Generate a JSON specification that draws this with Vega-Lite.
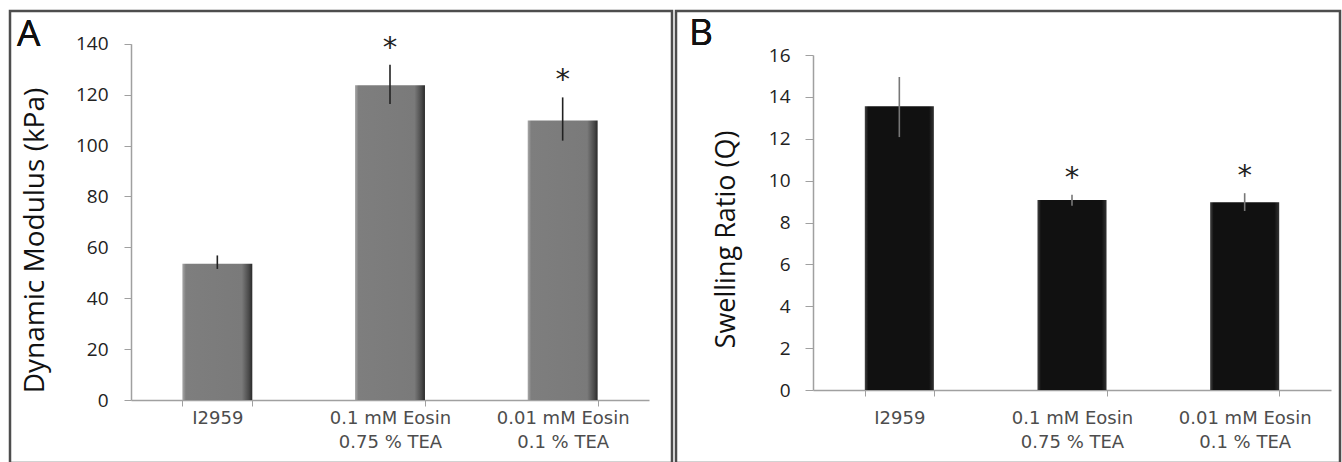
{
  "$schema": "https://vega.github.io/schema/vega-lite/v6.json",
  "padding": {"left": 8, "top": 9, "right": 0, "bottom": 0},
  "background": "white",
  "spacing": 0,
  "config": {
    "view": {"stroke": "#4d4d4d", "strokeWidth": 2.5},
    "axis": {"grid": false}
  },
  "datasets": {
    "modulus": [
      {"group": "I2959", "value": 53.5, "lo": 51.5, "hi": 56.8, "star": false},
      {"group": "0.1 mM Eosin\n0.75 % TEA", "value": 123.7, "lo": 116.3, "hi": 131.7, "star": true},
      {"group": "0.01 mM Eosin\n0.1 % TEA", "value": 109.8, "lo": 101.9, "hi": 118.9, "star": true}
    ],
    "swelling": [
      {"group": "I2959", "value": 13.55, "lo": 12.08, "hi": 14.95, "star": false},
      {"group": "0.1 mM Eosin\n0.75 % TEA", "value": 9.07, "lo": 8.8, "hi": 9.33, "star": true},
      {"group": "0.01 mM Eosin\n0.1 % TEA", "value": 8.97, "lo": 8.55, "hi": 9.4, "star": true}
    ]
  },
  "hconcat": [
    {
      "width": 662,
      "height": 452,
      "data": {"name": "modulus"},
      "encoding": {
        "x": {
          "field": "group", "type": "nominal", "sort": null,
          "scale": {"range": [121, 639], "paddingInner": 0.595, "paddingOuter": 0.2975},
          "axis": {"title": null, "labelAngle": 0, "offset": -63, "tickBand": "extent", "tickSize": 6, "tickColor": "#a0a0a0", "domainColor": "#a0a0a0", "domainWidth": 1.5, "labelFont": "DejaVu Sans", "labelFontSize": 18, "labelColor": "#4d4d4d", "labelPadding": 3, "labelLineHeight": 24, "labelExpr": "isString(datum.value) ? split(datum.value, '\\n') : ''"}
        }
      },
      "layer": [
        {
          "mark": {"type": "bar", "color": {"gradient": "linear", "x1": 0, "x2": 1, "y1": 0, "y2": 0, "stops": [{"offset": 0, "color": "#a8a8a8"}, {"offset": 0.05, "color": "#7e7e7e"}, {"offset": 0.85, "color": "#7a7a7a"}, {"offset": 0.95, "color": "#4a4a4a"}, {"offset": 1, "color": "#2a2a2a"}]}},
          "encoding": {
            "y": {
              "field": "value", "type": "quantitative",
              "scale": {"domain": [0, 140], "range": [389, 32.7], "nice": false},
              "axis": {"title": "Dynamic Modulus (kPa)", "offset": -121, "values": [0, 20, 40, 60, 80, 100, 120, 140], "tickSize": 7, "tickColor": "#a0a0a0", "domainColor": "#a0a0a0", "domainWidth": 1.5, "labelFont": "Open Sans", "labelFontSize": 19, "labelColor": "#222", "labelPadding": 16, "titleFont": "Open Sans", "titleFontSize": 28, "titleFontWeight": "normal", "titleColor": "#111", "titleX": -82, "titleY": 229, "titleBaseline": "bottom", "titleAngle": -90}
            }
          }
        },
        {
          "mark": {"type": "rule", "color": "#222", "strokeWidth": 1.6},
          "encoding": {"y": {"field": "lo", "type": "quantitative"}, "y2": {"field": "hi"}}
        },
        {
          "transform": [{"filter": "datum.star"}],
          "mark": {"type": "text", "text": "*", "font": "DejaVu Sans", "fontSize": 29, "baseline": "bottom", "dy": -2, "color": "#222"},
          "encoding": {"y": {"field": "hi", "type": "quantitative"}}
        },
        {
          "mark": {"type": "text", "text": "A", "align": "left", "baseline": "alphabetic", "font": "Open Sans", "fontSize": 37, "color": "#111"},
          "encoding": {
            "x": {"datum": "I2959", "type": "nominal", "bandPosition": -2.366},
            "y": {"datum": 139.1, "type": "quantitative"}
          }
        }
      ]
    },
    {
      "width": 664,
      "height": 452,
      "data": {"name": "swelling"},
      "encoding": {
        "x": {
          "field": "group", "type": "nominal", "sort": null,
          "scale": {"range": [137, 655], "paddingInner": 0.6, "paddingOuter": 0.3},
          "axis": {"title": null, "labelAngle": 0, "offset": -73, "tickBand": "extent", "tickSize": 6, "tickColor": "#a0a0a0", "domainColor": "#a0a0a0", "domainWidth": 1.5, "labelFont": "DejaVu Sans", "labelFontSize": 18, "labelColor": "#4d4d4d", "labelPadding": 13, "labelLineHeight": 24, "labelExpr": "isString(datum.value) ? split(datum.value, '\\n') : ''"}
        }
      },
      "layer": [
        {
          "mark": {"type": "bar", "color": {"gradient": "linear", "x1": 0, "x2": 1, "y1": 0, "y2": 0, "stops": [{"offset": 0, "color": "#444"}, {"offset": 0.05, "color": "#111"}, {"offset": 0.93, "color": "#111"}, {"offset": 1, "color": "#333"}]}},
          "encoding": {
            "y": {
              "field": "value", "type": "quantitative",
              "scale": {"domain": [0, 16], "range": [379, 44], "nice": false},
              "axis": {"title": "Swelling Ratio (Q)", "offset": -137, "values": [0, 2, 4, 6, 8, 10, 12, 14, 16], "tickSize": 8, "tickColor": "#a0a0a0", "domainColor": "#a0a0a0", "domainWidth": 1.5, "labelFont": "Open Sans", "labelFontSize": 19, "labelColor": "#222", "labelPadding": 15, "titleFont": "Open Sans", "titleFontSize": 27, "titleFontWeight": "normal", "titleColor": "#111", "titleX": -73, "titleY": 228, "titleBaseline": "bottom", "titleAngle": -90}
            }
          }
        },
        {
          "mark": {"type": "rule", "color": "#777", "strokeWidth": 1.6},
          "encoding": {"y": {"field": "lo", "type": "quantitative"}, "y2": {"field": "hi"}}
        },
        {
          "transform": [{"filter": "datum.star"}],
          "mark": {"type": "text", "text": "*", "font": "DejaVu Sans", "fontSize": 29, "baseline": "bottom", "dy": -2, "color": "#222"},
          "encoding": {"y": {"field": "hi", "type": "quantitative"}}
        },
        {
          "mark": {"type": "text", "text": "B", "align": "left", "baseline": "alphabetic", "font": "Open Sans", "fontSize": 37, "color": "#111"},
          "encoding": {
            "x": {"datum": "I2959", "type": "nominal", "bandPosition": -2.545},
            "y": {"datum": 16.48, "type": "quantitative"}
          }
        }
      ]
    }
  ]
}
